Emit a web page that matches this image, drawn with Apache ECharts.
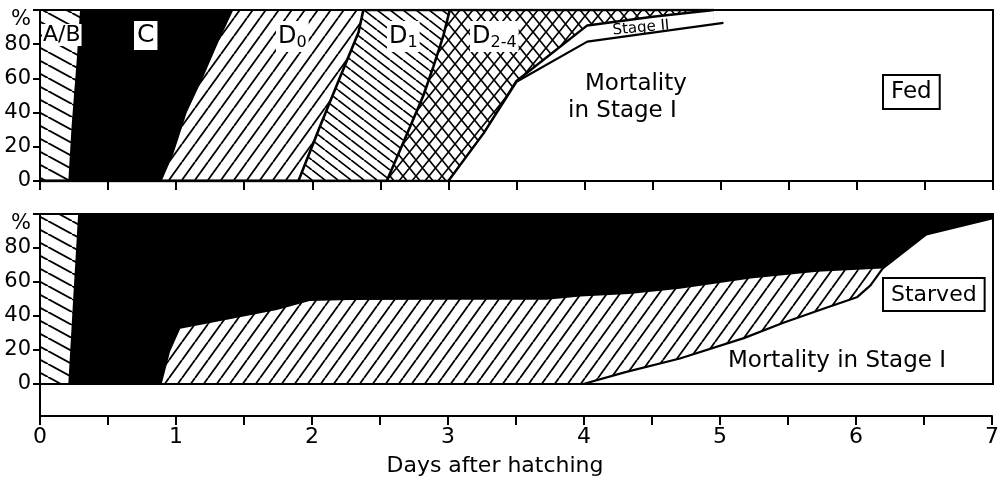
<!DOCTYPE html>
<html><head><meta charset="utf-8">
<script src="https://cdn.jsdelivr.net/npm/echarts@6/dist/echarts.min.js"></script>
<style>html,body{margin:0;padding:0;background:#fff}#c{width:1002px;height:490px}</style>
</head><body><div id="c"></div>
<script>
// ---- data (cumulative %, counted from the bottom of each panel) ----
const dayTicks = [0, 1, 2, 3, 4, 5, 6, 7];
const pctTicks = [0, 20, 40, 60, 80];

// Fed panel
const fedAB_t = [0, 4.95];                                   const fedAB_v = [100, 100];
const fedC_t  = [0, 0.208, 0.232, 0.27, 0.294, 4.95];        const fedC_v  = [0, 0, 32, 71, 100, 100];
const fedD0_t = [0, 0.894, 0.98, 1.078, 1.2, 1.32, 1.42, 4.95]; const fedD0_v = [0, 0, 16, 40, 61, 83, 100, 100];
const fedD1_t = [0, 1.898, 2.057, 2.2, 2.34, 2.375, 4.95];  const fedD1_v = [0, 0, 32, 60, 87, 100, 100];
const fedD24_t = [0, 2.547, 2.72, 2.816, 2.89, 2.963, 3.01, 4.95]; const fedD24_v = [0, 0, 32, 50, 67, 85, 100, 100];
const fedS2_t = [0, 3.0, 3.26, 3.5, 4.02, 4.5, 4.95];       const fedS2_v = [0, 0, 28, 58.5, 91, 96, 100];
const fedM_t  = [0, 3.0, 3.26, 3.5, 4.02, 5.02];            const fedM_v  = [0, 0, 28, 58, 81.5, 92.5];

// Starved panel
const stAB_t = [0, 7];                                       const stAB_v = [100, 100];
const stC_t  = [0, 0.208, 0.245, 0.262, 0.28, 7];            const stC_v  = [0, 0, 52, 75, 100, 100];
const stD0_t = [0, 0.894, 0.955, 1.03, 1.42, 1.74, 1.98, 2.28, 3.0, 3.72, 3.97, 4.33, 4.7, 5.22, 5.71, 6.19];
const stD0_v = [0, 0, 19, 32.5, 38.6, 43.5, 48.8, 49.4, 49.5, 49.6, 51.4, 53, 56, 62, 66, 68];
const stM_t  = [0, 3.99, 4.3, 4.7, 5.17, 5.46, 5.78, 6.0, 6.1, 6.19, 6.51, 7];
const stM_v  = [0, 0, 7, 15, 27, 36, 45, 51, 58, 68, 88, 97.5];

// ---- patterns ----
function hatch(w, h, dir, lw) {
  const c = document.createElement('canvas'); c.width = w; c.height = h;
  const g = c.getContext('2d');
  g.fillStyle = '#fff'; g.fillRect(0, 0, w, h);
  g.strokeStyle = '#000'; g.lineWidth = lw; g.beginPath();
  for (let k = -1; k <= 1; k++) {
    if (dir === '/' || dir === 'x') { g.moveTo(k * w, h); g.lineTo(k * w + w, 0); }
    if (dir === '\\' || dir === 'x') { g.moveTo(k * w, 0); g.lineTo(k * w + w, h); }
  }
  g.stroke();
  return { image: c, repeat: 'repeat' };
}
const pAB = hatch(24, 13, '\\', 1.9);
const pD0 = hatch(13, 18, '/', 1.8);
const pD1 = hatch(13, 10, '\\', 1.7);
const pX  = hatch(13, 16, 'x', 1.7);

const FONT = 'DejaVu Sans';
function pairs(t, v) { return t.map((x, i) => [x, v[i]]); }
function area(t, v, fill, grid, z, lineW) {
  return {
    type: 'line', xAxisIndex: grid, yAxisIndex: grid, data: pairs(t, v),
    symbol: 'none', z: z, silent: true, animation: false,
    lineStyle: { color: '#000', width: lineW || 0 },
    areaStyle: { color: fill, opacity: 1, origin: 'start' }
  };
}

const yLab = {
  fontSize: 21, color: '#000', fontFamily: FONT, margin: 9,
  formatter: v => v === 100 ? '{p|%}' : (pctTicks.indexOf(v) >= 0 ? String(v) : ''),
  rich: { p: { fontSize: 21, fontFamily: FONT, color: '#000', padding: [20, 0, 0, 0] } }
};
const axLine = { show: true, lineStyle: { color: '#000', width: 2 } };
const subRich = { s: { fontSize: 16, fontFamily: FONT, fill: '#000', padding: [13, 0, 0, 0] } };

const chart = echarts.init(document.getElementById('c'));
chart.setOption({
  animation: false,
  backgroundColor: '#fff',
  grid: [
    { left: 40, right: 9, top: 10, height: 171, show: true, borderColor: '#000', borderWidth: 2, z: 30, backgroundColor: 'transparent' },
    { left: 40, right: 9, top: 214, height: 170, show: true, borderColor: '#000', borderWidth: 2, z: 30, backgroundColor: 'transparent' },
    { left: 40, right: 9, top: 384, height: 32 }
  ],
  xAxis: [
    { gridIndex: 0, type: 'value', min: 0, max: 7, interval: 0.5, z: 30, axisLine: axLine,
      axisTick: { show: true, length: 9, lineStyle: { color: '#000', width: 2 } },
      axisLabel: { show: false }, splitLine: { show: false } },
    { gridIndex: 1, type: 'value', min: 0, max: 7, z: 30, axisLine: axLine,
      axisTick: { show: false }, axisLabel: { show: false }, splitLine: { show: false } },
    { gridIndex: 2, type: 'value', min: 0, max: 7, interval: 0.5, z: 30, axisLine: axLine,
      axisTick: { show: true, length: 9, lineStyle: { color: '#000', width: 2 } },
      axisLabel: { fontSize: 22, color: '#000', fontFamily: FONT, margin: 10,
        formatter: v => dayTicks.indexOf(v) >= 0 ? String(v) : '' },
      splitLine: { show: false },
      name: 'Days after hatching', nameLocation: 'middle', nameGap: 39,
      nameTextStyle: { fontSize: 22, color: '#000', fontFamily: FONT, padding: [0, 42, 0, 0] } }
  ],
  yAxis: [
    { gridIndex: 0, type: 'value', min: 0, max: 100, interval: 20, z: 30, axisLine: axLine,
      axisTick: { show: true, length: 7, lineStyle: { color: '#000', width: 2 } },
      axisLabel: yLab, splitLine: { show: false } },
    { gridIndex: 1, type: 'value', min: 0, max: 100, interval: 20, z: 30, axisLine: axLine,
      axisTick: { show: true, length: 7, lineStyle: { color: '#000', width: 2 } },
      axisLabel: yLab, splitLine: { show: false } },
    { gridIndex: 2, type: 'value', min: 0, max: 1, position: 'right', z: 30, axisLine: axLine,
      axisTick: { show: false }, axisLabel: { show: false }, splitLine: { show: false } }
  ],
  series: [
    area(fedAB_t, fedAB_v, pAB, 0, 2),
    area(fedC_t, fedC_v, '#000', 0, 3),
    area(fedD0_t, fedD0_v, pD0, 0, 4),
    area(fedD1_t, fedD1_v, pD1, 0, 5, 2.6),
    area(fedD24_t, fedD24_v, pX, 0, 6, 2.6),
    area(fedS2_t, fedS2_v, '#fff', 0, 7, 2.5),
    area(fedM_t, fedM_v, '#fff', 0, 8, 2.2),
    area(stAB_t, stAB_v, pAB, 1, 2),
    area(stC_t, stC_v, '#000', 1, 3),
    area(stD0_t, stD0_v, pD0, 1, 4),
    area(stM_t, stM_v, '#fff', 1, 8, 2.2)
  ],
  graphic: [
    { type: 'text', z: 100, left: 42, top: 24, style: { text: 'A/B', fontSize: 22, fontFamily: FONT, fill: '#000', backgroundColor: '#fff', padding: [0, 1] } },
    { type: 'text', z: 100, left: 134, top: 21, style: { text: 'C', fontSize: 25, fontFamily: FONT, fill: '#000', backgroundColor: '#fff', padding: [2, 3] } },
    { type: 'text', z: 100, left: 276, top: 21, style: { text: 'D{s|0}', fontSize: 24, fontFamily: FONT, fill: '#000', backgroundColor: '#fff', padding: [1, 2], rich: subRich } },
    { type: 'text', z: 100, left: 387, top: 21, style: { text: 'D{s|1}', fontSize: 24, fontFamily: FONT, fill: '#000', backgroundColor: '#fff', padding: [1, 2], rich: subRich } },
    { type: 'text', z: 100, left: 470, top: 21, style: { text: 'D{s|2-4}', fontSize: 24, fontFamily: FONT, fill: '#000', backgroundColor: '#fff', padding: [1, 2], rich: subRich } },
    { type: 'text', z: 100, x: 641, y: 28, rotation: 0.09, style: { text: 'Stage II', fontSize: 15, fontFamily: FONT, fill: '#000', align: 'center', verticalAlign: 'middle' } },
    { type: 'text', z: 100, left: 585, top: 73, style: { text: 'Mortality', fontSize: 23, fontFamily: FONT, fill: '#000' } },
    { type: 'text', z: 100, left: 568, top: 100, style: { text: 'in Stage I', fontSize: 23, fontFamily: FONT, fill: '#000' } },
    { type: 'text', z: 100, left: 882, top: 74, style: { text: 'Fed', fontSize: 23, fontFamily: FONT, fill: '#000', backgroundColor: '#fff', borderColor: '#000', borderWidth: 2, padding: [5, 7, 4, 7] } },
    { type: 'text', z: 100, left: 882, top: 277, style: { text: 'Starved', fontSize: 22, fontFamily: FONT, fill: '#000', backgroundColor: '#fff', borderColor: '#000', borderWidth: 2, padding: [5, 7, 4, 7] } },
    { type: 'text', z: 100, left: 728, top: 350, style: { text: 'Mortality in Stage I', fontSize: 23, fontFamily: FONT, fill: '#000' } }
  ]
});
</script></body></html>
